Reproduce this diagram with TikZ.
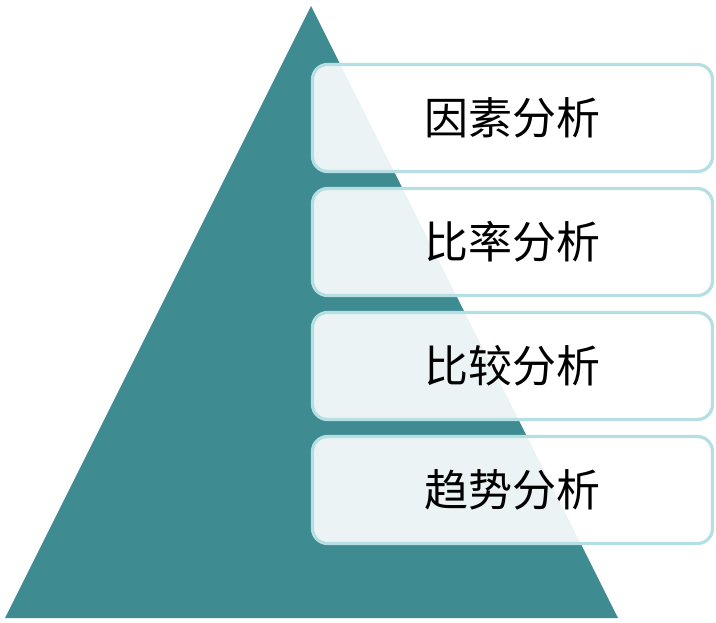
\documentclass[tikz,border=0pt]{standalone}
\usepackage{fontspec}
\newfontfamily\cjk{Noto Sans CJK SC}
\usepackage{xcolor}
\definecolor{pyrteal}{HTML}{3E8B91}
\definecolor{boxline}{HTML}{B5DFE2}
\tikzset{
  stage/.style={draw=boxline, line width=3.2pt, fill=white, fill opacity=0.9,
    text opacity=1, rounded corners=15pt, minimum width=400pt,
    minimum height=107pt, inner sep=0pt, font=\cjk\fontsize{44}{52}\selectfont}
}

\begin{document}
\begin{tikzpicture}[x=1pt,y=-1pt]
  \useasboundingbox (0,0) rectangle (716,623);
  % pyramid
  \coordinate (apex) at (311,6);
  \coordinate (right) at (618,618);
  \coordinate (left) at (5,618);
  \fill[pyrteal] (apex) -- (right) -- (left) -- cycle;

  % analysis levels
  \node[stage] (factor) at (512.5,118) {因素分析};
  \node[stage] (ratio) at (512.5,242) {比率分析};
  \node[stage] (compare) at (512.5,366) {比较分析};
  \node[stage] (trend) at (512.5,490) {趋势分析};
\end{tikzpicture}
\end{document}
